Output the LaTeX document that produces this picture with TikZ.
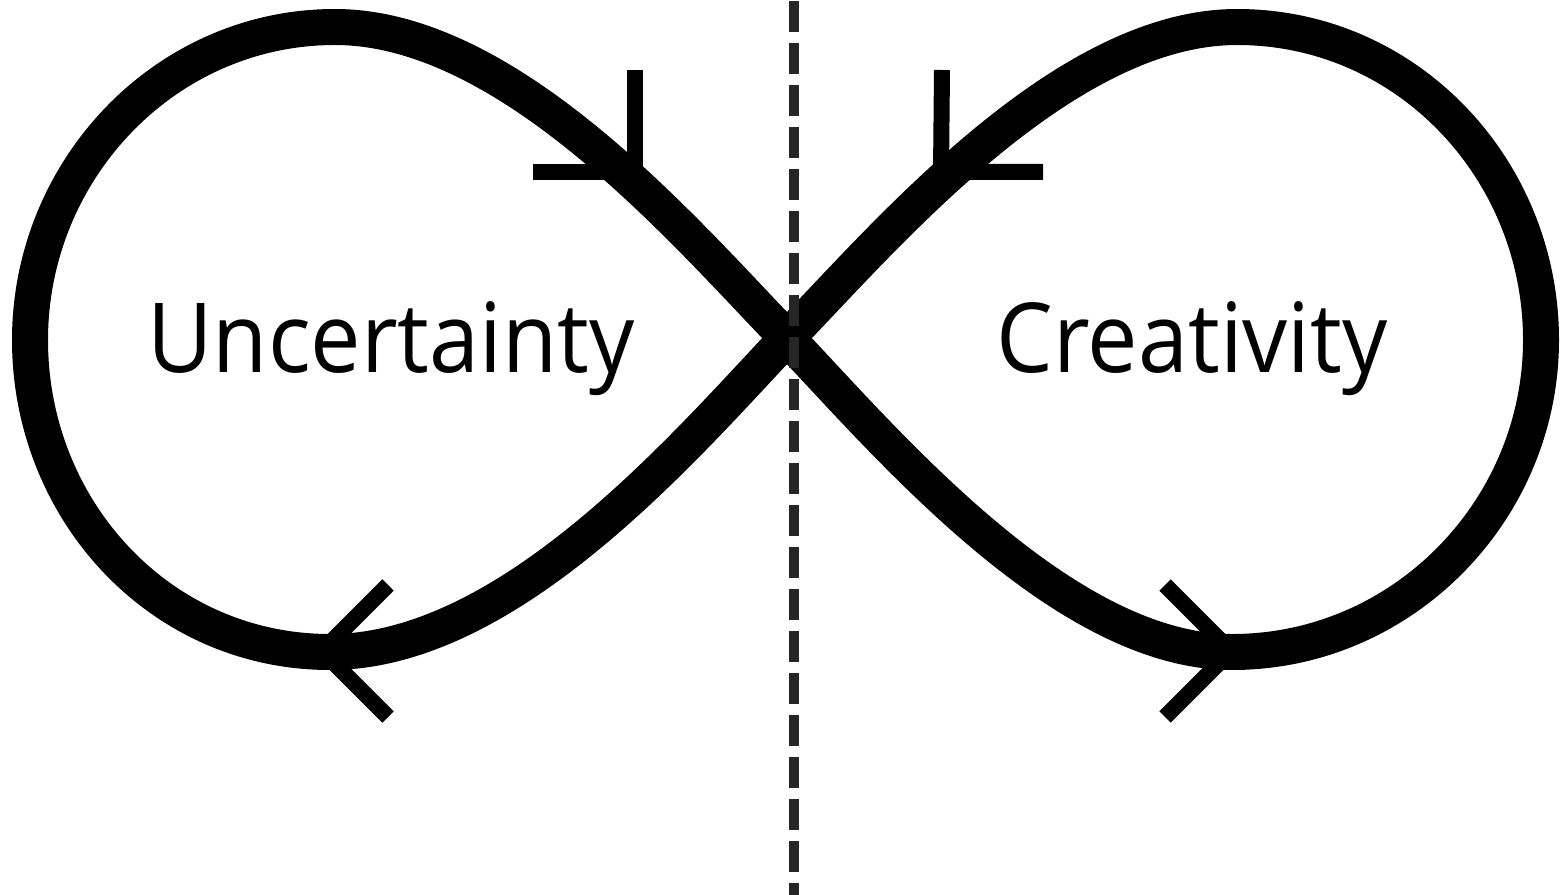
\documentclass[tikz,border=0pt]{standalone}
\usepackage{fontspec}
\setmainfont{Open Sans}
\definecolor{dashgray}{HTML}{262626}
\begin{document}
\begin{tikzpicture}[x=0.02cm,y=-0.02cm,
  loopline/.style={line width=0.72cm, line join=round},
  headline/.style={line width=0.32cm, line cap=butt, line join=miter},
  divider/.style={line width=0.2cm, draw=dashgray, dash pattern=on 0.62cm off 0.22cm},
  lbl/.style={font=\fontsize{55}{60}\selectfont, anchor=base, inner sep=0pt, xscale=0.93}]
\useasboundingbox (0,0) rectangle (1562,895);
\coordinate (X) at (787,338);
\draw[loopline] (X) .. controls (690,238) and (512,27) .. (335,27)
  .. controls (165,27) and (30,170) .. (30,340)
  .. controls (30,510) and (160,652) .. (330,652)
  .. controls (512,652) and (690,440) .. (X)
  .. controls (884,238) and (1062,27) .. (1237,27)
  .. controls (1408,27) and (1541,170) .. (1541,340)
  .. controls (1541,510) and (1403,652) .. (1232,652)
  .. controls (1062,652) and (884,440) .. cycle;
% arrow marks
\coordinate (t1) at (635,172);
\coordinate (t2) at (941,172);
\coordinate (t3) at (322,651);
\coordinate (t4) at (1231,651);
\draw[headline] (635,70) -- (t1) -- (533,172);
\draw[headline] (942,70) -- (t2) -- (1043,172);
\draw[headline] (388,585) -- (t3) -- (388,717);
\draw[headline] (1165,585) -- (t4) -- (1165,717);
% divider
\coordinate (dtop) at (794,1);
\coordinate (dbot) at (794,895);
\draw[divider] (dtop) -- (dbot);
% labels
\node[lbl] (unc) at (391,372) {Uncertainty};
\node[lbl] (cre) at (1192,372) {Creativity};
\end{tikzpicture}
\end{document}
